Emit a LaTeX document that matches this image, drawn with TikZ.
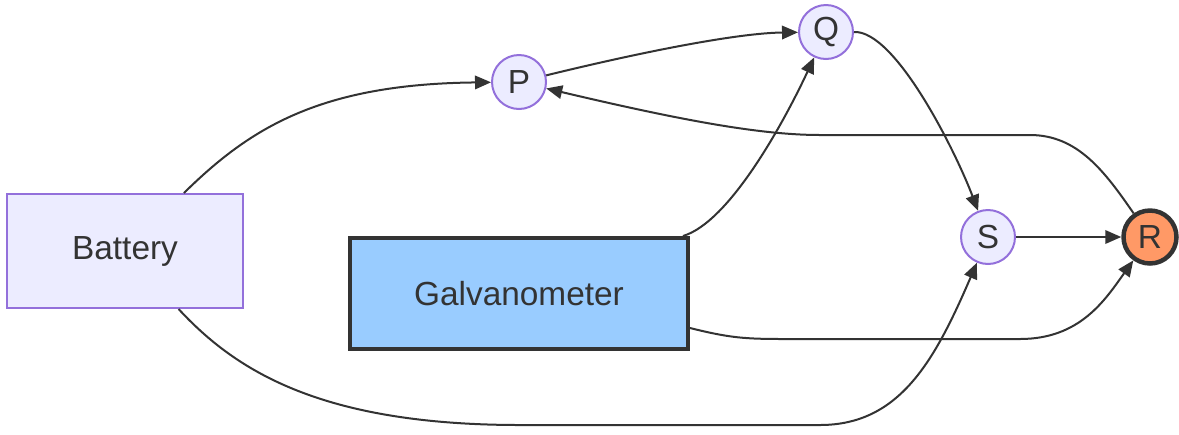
\documentclass[tikz,border=0pt]{standalone}
\usepackage{fontspec}
\setmainfont{Liberation Sans}
\usepackage{tikz}
\usetikzlibrary{arrows.meta,calc}

\definecolor{ink}{HTML}{333333}
\definecolor{lav}{HTML}{ECECFF}
\definecolor{lavline}{HTML}{9370DB}
\definecolor{sky}{HTML}{99CCFF}
\definecolor{peach}{HTML}{FF9966}

\begin{document}
\begin{tikzpicture}[x=0.02cm,y=-0.02cm,>={Triangle[length=0.32cm,width=0.27cm]},
  font=\fontsize{19}{22}\selectfont,text=ink,
  box/.style={draw=lavline,fill=lav,line width=0.04cm,minimum width=4.72cm,minimum height=2.28cm,inner sep=0pt},
  meter/.style={draw=ink,fill=sky,line width=0.08cm,minimum width=6.76cm,minimum height=2.22cm,inner sep=0pt},
  bubble/.style={circle,draw=lavline,fill=lav,line width=0.04cm,minimum size=1.08cm,inner sep=0pt},
  hot/.style={circle,draw=ink,fill=peach,line width=0.09cm,minimum size=1.06cm,inner sep=0pt},
  wire/.style={draw=ink,line width=0.04cm,->}]
\useasboundingbox (0,0) rectangle (1179,434);
\node[box] (bat) at (125,251) {Battery};
\node[meter] (galv) at (519,293.5) {Galvanometer};
\node[bubble] (P) at (519,82) {P};
\node[bubble] (Q) at (826,32) {Q};
\node[bubble] (S) at (988,237) {S};
\node[hot] (R) at (1150,237) {R};
% wires
\draw[wire] (bat) .. controls (250,128) and (320,84) .. (P);
\draw[wire] (P) .. controls (650,50) and (740,33) .. (Q);
\draw[wire] ($(galv.north east)+(-7,0)$) .. controls (730,222) and (785,120) .. (Q);
\draw[wire] (Q.east) .. controls (895,30) and (955,150) .. (S);
\draw[wire] (R) .. controls (1105,172) and (1078,135) .. (1030,135) -- (820,135)
  .. controls (760,135) and (680,120) .. (P);
\draw[wire] (S) -- (R);
\draw[wire] ($(galv.south east)+(0,-23)$) .. controls (730,338) and (745,339) .. (785,339) -- (1020,339)
  .. controls (1080,339) and (1105,300) .. (R);
\draw[wire] (bat) .. controls (235,370) and (320,425) .. (520,425) -- (820,425)
  .. controls (900,425) and (935,360) .. (S);
\end{tikzpicture}
\end{document}
